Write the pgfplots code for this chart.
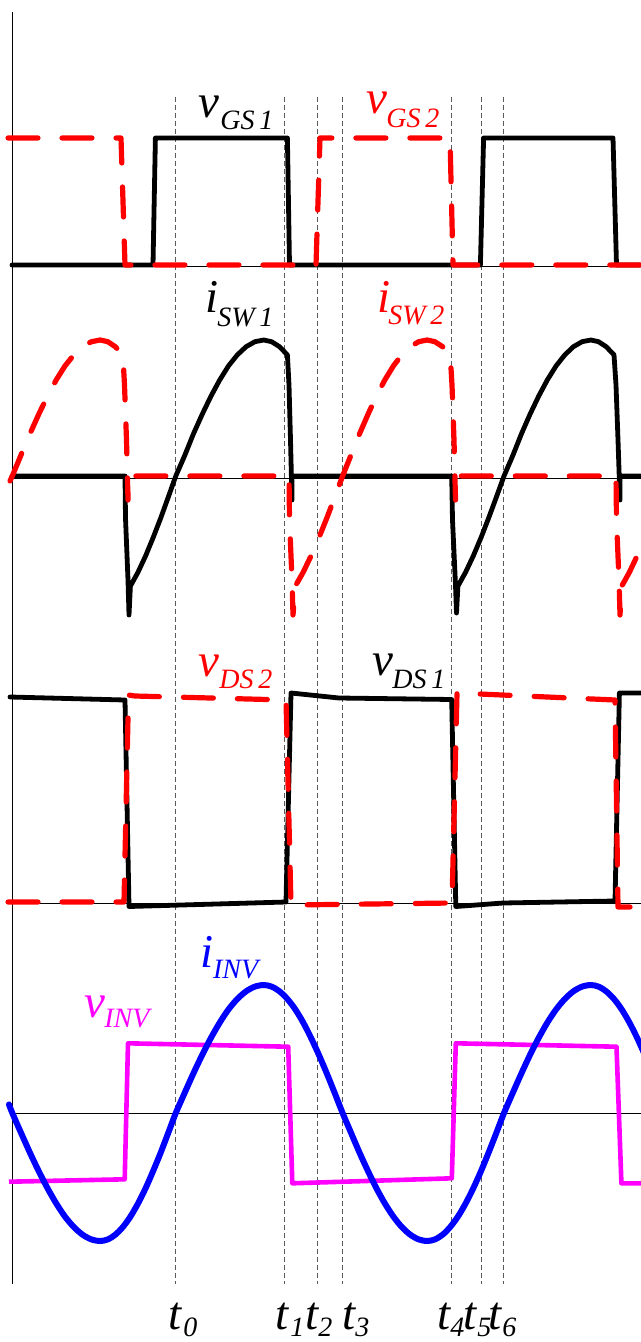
\documentclass[border=0pt]{standalone}
\usepackage{fontspec}
\setmainfont{Liberation Serif}
\usepackage{pgfplots}
\pgfplotsset{compat=1.18}

\newcommand\mainf{\fontsize{23.5pt}{28pt}\selectfont\itshape}
\newcommand\subf{\fontsize{14pt}{17pt}\selectfont\itshape}

\definecolor{sigred}{RGB}{255,0,0}
\definecolor{sigmag}{RGB}{255,0,255}
\definecolor{sigblue}{RGB}{0,0,255}

\begin{document}
\begin{tikzpicture}
\useasboundingbox (0,0) rectangle (320.5pt,671pt);
\begin{axis}[
  at={(0,0)}, anchor=south west,
  width=320.5pt, height=671pt, scale only axis,
  xmin=0, xmax=641, ymin=0, ymax=1342, y dir=reverse,
  hide axis, clip=true,
  every axis plot/.append style={line join=round},
  sig/.style={black, line width=2.4pt, line cap=round},
  sigdash/.style={sigred, line width=2.6pt, line cap=round, dash pattern=on 15pt off 12pt},
  tline/.style={gray!70!black, line width=0.45pt, dash pattern=on 2.5pt off 1.5pt},
  base/.style={black, line width=0.5pt},
]

% time markers t0 ... t6
\addplot[tline] coordinates {(175.8,97) (175.8,1284)};
\addplot[tline] coordinates {(284.7,97) (284.7,1284)};
\addplot[tline] coordinates {(317.6,97) (317.6,1284)};
\addplot[tline] coordinates {(342.6,97) (342.6,1284)};
\addplot[tline] coordinates {(451.0,97) (451.0,1284)};
\addplot[tline] coordinates {(481.5,97) (481.5,1284)};
\addplot[tline] coordinates {(503.3,97) (503.3,1284)};

% vertical axis and zero lines of the four traces
\addplot[black, line width=0.7pt] coordinates {(12.5,12) (12.5,1284)};
\addplot[base] coordinates {(12,267) (641,267)};
\addplot[base] coordinates {(12,478) (641,478)};
\addplot[base] coordinates {(12,903) (641,903)};
\addplot[base] coordinates {(12,1113.3) (641,1113.3)};

% gate-source voltages
\addplot[sig] coordinates {(12,265) (153,265) (155.4,138) (287.4,138) (289.5,265)
  (480.4,265) (483.6,138) (613,138) (616.5,265) (641,265)};
\addplot[sigdash] coordinates {(8,138) (121,138) (125,265) (316,265) (320,138)
  (450,138) (453,265) (641,265)};

% switch currents
\addplot[sig] coordinates {(12,476) (125,476) (125.5,518) (128,580) (129,615)
  (130.4,586.1) (138.0,572.2) (145.6,555.9) (153.1,537.7) (160.7,518.1) (168.2,497.3)
  (175.8,476) (184.6,455.8) (193.4,433.9) (202.2,414.3) (211.0,396.1) (219.8,379.8)
  (228.5,365.9) (237.3,354.9) (246.1,346.7) (254.9,341.7) (263.7,340) (271.6,341.7)
  (279.5,346.7) (287.4,354.9) (289,385) (290.5,440) (292,500) (292,476)
  (451.7,476) (452.5,520) (455.5,585) (456.5,613)
  (457.9,586.1) (465.6,572.2) (473.3,555.9) (481.0,537.7) (488.6,518.1) (496.3,497.3)
  (504,476) (512.7,455.8) (521.4,433.9) (530.0,414.3) (538.7,396.1) (547.4,379.8)
  (556.1,365.9) (564.8,354.9) (573.4,346.7) (582.1,341.7) (590.8,340) (598.5,341.7)
  (606.2,346.7) (614.0,354.9) (616,385) (618,440) (620,500) (620,476) (641,476)};
\addplot[sigdash] coordinates {(10,481) (12.3,476) (21.1,454.8) (29.9,433.9)
  (38.7,414.3) (47.5,396.1) (56.3,379.8) (65.0,365.9) (73.8,354.9) (82.6,346.7)
  (91.4,341.7) (100.2,340) (107.8,341.7) (115.3,346.7) (122.9,354.9) (124.5,385)
  (126.5,440) (128,500) (128,476) (289,476) (289.5,520) (292,580) (293,615)
  (295.3,586.1) (303.2,572.2) (311.0,555.9) (318.9,537.7) (326.8,518.1) (334.7,497.3)
  (342.6,476) (351.1,454.8) (359.5,433.9) (368.0,414.3) (376.4,396.1) (384.9,379.8)
  (393.4,365.9) (401.8,354.9) (410.3,346.7) (418.7,341.7) (427.2,340) (434.9,341.7)
  (442.6,346.7) (450.2,354.9) (452,385) (454,440) (455.5,500) (455.5,476)
  (616,476) (616.5,520) (619,580) (620,615) (621.7,586.1) (629.4,572.2)
  (637.1,555.9) (641,547)};

% drain-source voltages
\addplot[sig] coordinates {(10,697) (125,700) (129,906.5) (286,902) (291,693)
  (339,698) (451.7,699.5) (455.8,906.5) (503,903) (615,901) (619.4,693) (641,693)};
\addplot[sigdash] coordinates {(8,902) (124,902) (128.5,695) (135,696) (286,700)
  (291,905) (452,903) (457,693) (615,700) (618,907) (641,907)};

% inverter output voltage and current
\addplot[sigmag, line width=2.3pt] coordinates {(9,1181.7) (124.7,1179.3) (128,1043.3)
  (288.2,1046.7) (292.3,1183.3) (451.8,1178.3) (455.8,1043.3) (616.5,1046.7)
  (621.4,1183.3) (641,1183.3)};
\addplot[sigblue, line width=3pt, line cap=round, smooth] coordinates {(9,1104.4)
  (12.3,1113) (21.1,1133.0) (29.9,1152.6) (38.7,1171.1) (47.5,1188.2) (56.3,1203.5)
  (65.0,1216.6) (73.8,1227.0) (82.6,1234.7) (91.4,1239.4) (100.2,1241)
  (107.8,1239.4) (115.3,1234.7) (122.9,1227.0) (130.4,1216.6) (138.0,1203.5)
  (145.6,1188.2) (153.1,1171.1) (160.7,1152.6) (168.2,1133.0) (175.8,1113)
  (184.6,1093.0) (193.4,1073.4) (202.2,1054.9) (211.0,1037.8) (219.8,1022.5)
  (228.5,1009.4) (237.3,999.0) (246.1,991.3) (254.9,986.6) (263.7,985)
  (271.6,986.6) (279.5,991.3) (287.4,999.0) (295.3,1009.4) (303.2,1022.5)
  (311.0,1037.8) (318.9,1054.9) (326.8,1073.4) (334.7,1093.0) (342.6,1113)
  (351.1,1133.0) (359.5,1152.6) (368.0,1171.1) (376.4,1188.2) (384.9,1203.5)
  (393.4,1216.6) (401.8,1227.0) (410.3,1234.7) (418.7,1239.4) (427.2,1241)
  (434.9,1239.4) (442.6,1234.7) (450.2,1227.0) (457.9,1216.6) (465.6,1203.5)
  (473.3,1188.2) (481.0,1171.1) (488.6,1152.6) (496.3,1133.0) (504,1113)
  (512.7,1093.0) (521.4,1073.4) (530.0,1054.9) (538.7,1037.8) (547.4,1022.5)
  (556.1,1009.4) (564.8,999.0) (573.4,991.3) (582.1,986.6) (590.8,985)
  (598.5,986.6) (606.2,991.3) (614.0,999.0) (621.7,1009.4) (629.4,1022.5)
  (637.1,1037.8) (644.8,1054.9)};

% trace labels
\begin{scope}[every node/.style={anchor=base west, inner sep=0pt}]
\node[font=\mainf] at (198,118) {v};
\node[font=\subf] at (220,130) {GS\,1};
\node[font=\mainf, text=sigred] at (366,114) {v};
\node[font=\subf, text=sigred] at (386,128) {GS\,2};
\node[font=\mainf] at (205,313) {i};
\node[font=\subf] at (217,327) {SW\,1};
\node[font=\mainf, text=sigred] at (377,313) {i};
\node[font=\subf, text=sigred] at (388,325) {SW\,2};
\node[font=\mainf, text=sigred] at (198,676) {v};
\node[font=\subf, text=sigred] at (219,688) {DS\,2};
\node[font=\mainf] at (372,675) {v};
\node[font=\subf] at (392,688) {DS\,1};
\node[font=\mainf, text=sigblue] at (200,967) {i};
\node[font=\subf, text=sigblue] at (212.6,978) {INV};
\node[font=\mainf, text=sigmag] at (84,1017) {v};
\node[font=\subf, text=sigmag] at (104,1027) {INV};
% time instants
\node[font=\mainf] at (168,1329) {t};  \node[font=\subf] at (183,1336) {0};
\node[font=\mainf] at (275,1329) {t};  \node[font=\subf] at (290,1336) {1};
\node[font=\mainf] at (305,1329) {t};  \node[font=\subf] at (318,1336) {2};
\node[font=\mainf] at (342,1329) {t};  \node[font=\subf] at (355,1336) {3};
\node[font=\mainf] at (437,1329) {t};  \node[font=\subf] at (450,1336) {4};
\node[font=\mainf] at (463,1329) {t};  \node[font=\subf] at (477,1336) {5};
\node[font=\mainf] at (488,1329) {t};  \node[font=\subf] at (502,1336) {6};
\end{scope}

\end{axis}
\end{tikzpicture}
\end{document}
